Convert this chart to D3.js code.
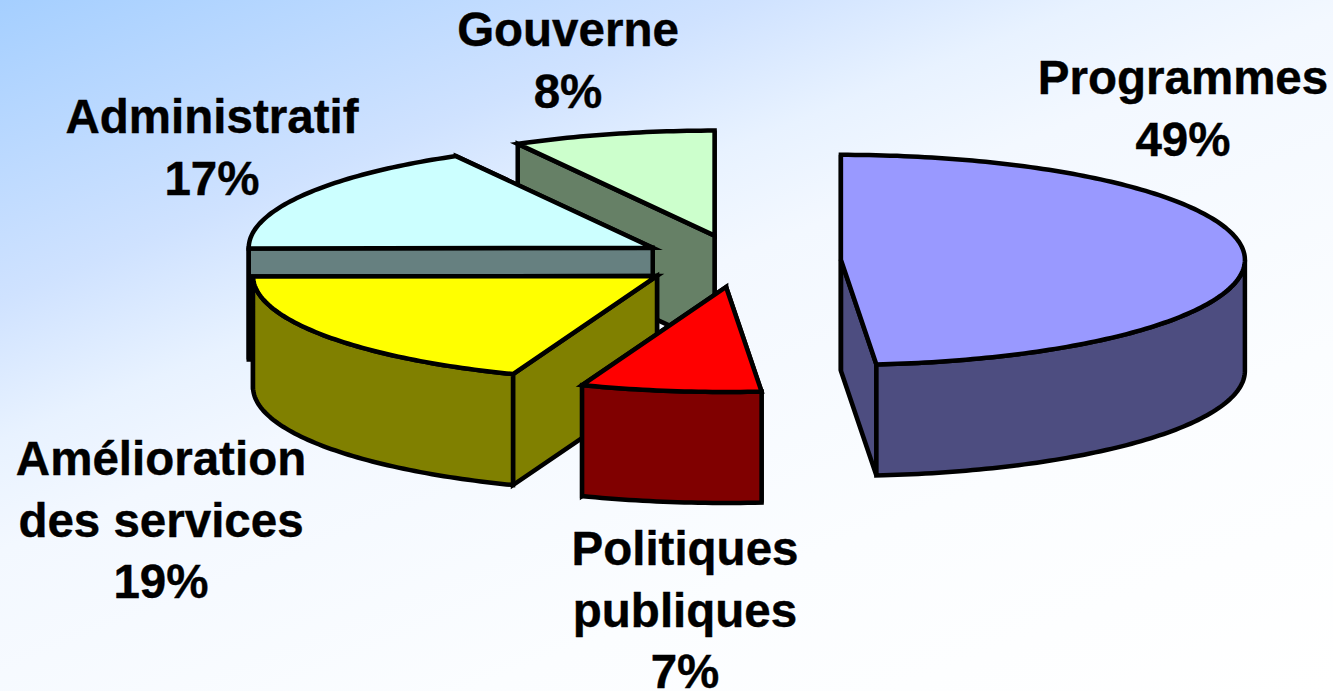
<!DOCTYPE html>
<html>
<head>
<meta charset="utf-8">
<script src="https://cdn.jsdelivr.net/npm/d3@7"></script>
<style>
  html, body { margin: 0; padding: 0; background: #fff; overflow: hidden; }
  text { font-family: "Liberation Sans", Arial, sans-serif; font-weight: bold; fill: #000; stroke: #000; stroke-width: 0.4; }
</style>
</head>
<body>
<svg id="chart"></svg>
<script>
// DATA
const categories = ['Programmes', 'Politiques publiques', 'Amélioration des services', 'Administratif', 'Gouverne']
const shares = [48.6, 7.2, 19.1, 17, 8.1]
const labelLines = [['Programmes'], ['Politiques', 'publiques'], ['Amélioration', 'des services'], ['Administratif'], ['Gouverne']]
const topColours = ['#9999ff', '#ff0000', '#ffff00', '#ccffff', '#ccffcc']
const sideColours = ['#4d4d80', '#800000', '#808000', '#668080', '#668066']

// LAYOUT
const width = 1333, height = 691
const centre = {x: 740, y: 261}
const rx = 404, ry = 105, depth = 111
const explode = 101
const labelAnchors = [[1183, 94], [685, 565], [161, 475], [212, 133], [568, 46]]
const lineHeight = 61.5

const svg = d3.select('#chart').attr('width', width).attr('height', height)

// BACKGROUND
const grad = svg.append('defs').append('linearGradient')
    .attr('id', 'bg').attr('gradientUnits', 'userSpaceOnUse')
    .attr('x1', 0).attr('y1', 0).attr('x2', 421).attr('y2', 1054)
grad.append('stop').attr('offset', 0).attr('stop-color', '#a5cfff')
grad.append('stop').attr('offset', 0.245).attr('stop-color', '#cfe2ff')
grad.append('stop').attr('offset', 0.36).attr('stop-color', '#e8f2ff')
grad.append('stop').attr('offset', 0.45).attr('stop-color', '#f3f8ff')
grad.append('stop').attr('offset', 0.72).attr('stop-color', '#fbfdff')
grad.append('stop').attr('offset', 1).attr('stop-color', '#ffffff')
svg.append('rect').attr('width', width).attr('height', height).attr('fill', 'url(#bg)')

// SLICES, angle 0 is at the top and runs clockwise
const slices = d3.pie().sort(null)(shares)
const deg = Math.PI / 180
const line = d3.line()

slices.forEach(s => {
    let mid = (s.startAngle + s.endAngle) / 2
    s.cx = centre.x + explode * Math.sin(mid)
    s.cy = centre.y - explode * ry / rx * Math.cos(mid)
})

const rim = (s, t, drop = 0) => [s.cx + rx * Math.sin(t), s.cy - ry * Math.cos(t) + drop]

const arcPoints = (s, a, b, drop = 0) => {
    let n = Math.max(2, Math.ceil((b - a) / deg))
    return d3.range(n + 1).map(i => rim(s, a + (b - a) * i / n, drop))
}

// one flat wall from the centre out to the rim at angle t
const cutWall = (s, t) => line([
    [s.cx, s.cy], rim(s, t), rim(s, t, depth), [s.cx, s.cy + depth]
]) + 'Z'

const chart = svg.append('g')
    .attr('stroke', '#000')
    .attr('stroke-width', 4.5)
    .attr('stroke-linejoin', 'miter')
    .attr('stroke-miterlimit', 6)

// back slices first so the front ones sit over them
const drawOrder = [4, 3, 2, 1, 0]

drawOrder.forEach(i => {
    let s = slices[i]
    let g = chart.append('g').attr('class', 'slice')

    g.append('path').attr('d', cutWall(s, s.endAngle)).attr('fill', sideColours[i])
    g.append('path').attr('d', cutWall(s, s.startAngle)).attr('fill', sideColours[i])

    // only the near half of the rim can be seen
    let a = Math.max(s.startAngle, 90 * deg)
    let b = Math.min(s.endAngle, 270 * deg)
    if (b > a) {
        g.append('path')
            .attr('d', line(arcPoints(s, a, b).concat(arcPoints(s, a, b, depth).reverse())) + 'Z')
            .attr('fill', sideColours[i])
    }

    g.append('path')
        .attr('d', line([[s.cx, s.cy]].concat(arcPoints(s, s.startAngle, s.endAngle))) + 'Z')
        .attr('fill', topColours[i])
})

// LABELS
const labels = svg.append('g').attr('text-anchor', 'middle').attr('font-size', 47.5)

categories.forEach((c, i) => {
    let lines = labelLines[i].concat(Math.round(shares[i]) + '%')
    lines.forEach((t, j) => {
        labels.append('text')
            .attr('x', labelAnchors[i][0])
            .attr('y', labelAnchors[i][1] + j * lineHeight)
            .text(t)
    })
})
</script>
</body>
</html>
